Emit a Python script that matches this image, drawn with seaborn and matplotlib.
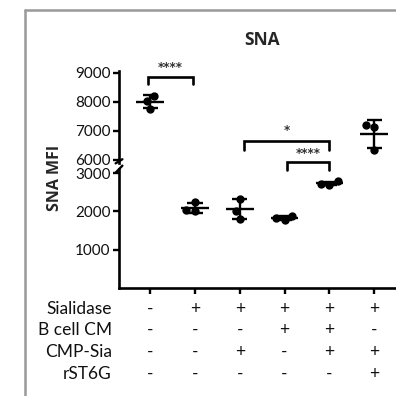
import numpy as np
import pandas as pd
import matplotlib
matplotlib.use("Agg")
import matplotlib.pyplot as plt
from matplotlib.lines import Line2D
import seaborn as sns

groups = ["G1", "G2", "G3", "G4", "G5", "G6"]
values = {
    "G1": [8220, 8040, 7770],
    "G2": [2250, 2030, 2020],
    "G3": [2330, 2010, 1810],
    "G4": [1890, 1835, 1785],
    "G5": [2780, 2720, 2700],
    "G6": [7220, 7140, 6330],
}
row_labels = ["Sialidase", "B cell CM", "CMP-Sia", "rST6G"]
table = [
    ["-", "+", "+", "+", "+", "+"],
    ["-", "-", "-", "+", "+", "-"],
    ["-", "-", "+", "-", "+", "+"],
    ["-", "-", "-", "-", "-", "+"],
]
upper_ticks = [6000, 7000, 8000, 9000]
lower_ticks = [1000, 2000, 3000]
title = "SNA"
ylabel = "SNA MFI"

sns.set_theme(style="white")
plt.rcParams["font.family"] = ["Lato", "DejaVu Sans"]

rows = [(g, v) for g in groups for v in values[g]]
df = pd.DataFrame(rows, columns=["group", "mfi"])

W = H = 396
fig = plt.figure(figsize=(3.96, 3.96), dpi=100)

def fx(px):
    return px / W

def fy(py):
    return 1 - py / H

ax_left = fx(119)
ax_w = fx(401 - 119)
up_lim = (5900, 9050)
lo_lim = (0, 3100)
ax_up = fig.add_axes([ax_left, fy(162.9), ax_w, fy(71.5) - fy(162.9)])
ax_lo = fig.add_axes([ax_left, fy(288), ax_w, fy(169.2) - fy(288)])

for ax, lim, sub in [(ax_up, up_lim, df[df.mfi >= 5000]), (ax_lo, lo_lim, df[df.mfi < 5000])]:
    sns.swarmplot(data=sub, x="group", y="mfi", order=groups, color="black",
                  size=6, ax=ax)
    for i, g in enumerate(groups):
        v = np.array(values[g])
        m, s = v.mean(), v.std(ddof=1)
        ax.hlines(m, i - 0.31, i + 0.31, color="black", lw=1.7, zorder=3)
        ax.vlines(i, m - s, m + s, color="black", lw=1.7, zorder=3)
        ax.hlines([m - s, m + s], i - 0.17, i + 0.17, color="black", lw=1.7, zorder=3)
    ax.set_ylim(*lim)
    ax.set_xlim(-0.7, 5.6)
    ax.set_xlabel("")
    ax.set_ylabel("")
    ax.set_facecolor("white")
    for sp in ["top", "right"]:
        ax.spines[sp].set_visible(False)
    ax.spines["left"].set_linewidth(1.9)
    ax.spines["left"].set_color("black")
    ax.tick_params(axis="y", direction="out", length=4, width=1.7, color="black",
                   labelsize=11, pad=2, left=True, labelcolor="#111111")

ax_up.set_yticks(upper_ticks)
ax_lo.set_yticks(lower_ticks)
ax_up.spines["bottom"].set_visible(False)
ax_up.tick_params(axis="x", bottom=False, labelbottom=False)
ax_lo.spines["bottom"].set_linewidth(1.9)
ax_lo.spines["bottom"].set_color("black")
ax_lo.tick_params(axis="x", direction="out", length=4, width=1.7, color="black",
                  bottom=True, labelbottom=False)

# break marks
kw = dict(color="black", lw=1.7, clip_on=False)
ax_up.plot([-0.012, 0.012], [-0.005, 0.04], transform=ax_up.transAxes, **kw)
ax_lo.plot([-0.012, 0.012], [0.97, 1.03], transform=ax_lo.transAxes, **kw)

# significance brackets
def bracket(ax, x1, x2, ytop, ybot, label, ylab):
    ax.plot([x1, x1, x2, x2], [ybot, ytop, ytop, ybot], color="black", lw=1.9,
            clip_on=False, solid_joinstyle="miter")
    ax.text((x1 + x2) / 2, ylab, label, ha="center", va="center", fontsize=8.5,
            fontweight="bold", color="#333333", family="DejaVu Sans")

bracket(ax_up, -0.05, 0.95, 8860, 8620, "****", 9200)
bracket(ax_up, 2.1, 4.0, 6655, 6345, "*", 7000)
bracket(ax_lo, 3.05, 4.0, 3287, 3078, "****", 3500)

fig.text(fx(262), fy(40), title, ha="center", va="center", fontsize=12.5,
         fontweight="bold", family="Open Sans")
fig.text(fx(55), fy(178), ylabel, ha="center", va="center", rotation=90,
         fontsize=11.5, fontweight="bold", family="Open Sans")

# condition table
row_y = [309, 330, 352, 374]
for r, lab in enumerate(row_labels):
    fig.text(fx(112), fy(row_y[r]), lab, ha="right", va="center", fontsize=12.5,
             color="#111111")
    for i in range(len(groups)):
        xdisp = ax_lo.transData.transform((i, 0))[0]
        fig.text(xdisp / W, fy(row_y[r]), table[r][i], ha="center", va="center",
                 fontsize=12.5, color="#111111")

# outer frame
fig.add_artist(Line2D([fx(25), fx(25)], [fy(10), 0], color="#999999", lw=1.8))
fig.add_artist(Line2D([fx(25), 1.0], [fy(10), fy(10)], color="#999999", lw=1.8))

fig.savefig("out.png", dpi=100, facecolor="white")
